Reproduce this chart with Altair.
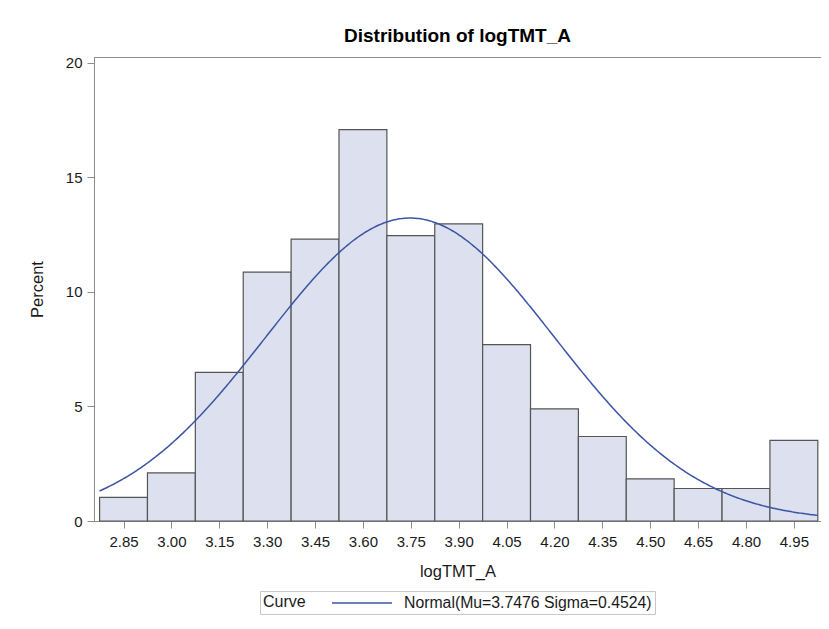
import altair as alt
import pandas as pd

# ---- data ----
BIN_CENTERS = [2.85, 3.00, 3.15, 3.30, 3.45, 3.60, 3.75, 3.90, 4.05, 4.20, 4.35, 4.50, 4.65, 4.80, 4.95]
PERCENTS = [1.03, 2.10, 6.49, 10.87, 12.31, 17.09, 12.46, 12.97, 7.70, 4.90, 3.69, 1.84, 1.42, 1.42, 3.52]
X_TICKS = [2.85, 3.00, 3.15, 3.30, 3.45, 3.60, 3.75, 3.90, 4.05, 4.20, 4.35, 4.50, 4.65, 4.80, 4.95]
Y_TICKS = [0, 5, 10, 15, 20]
BIN_WIDTH = 0.15
MU = 3.7476
SIGMA = 0.4524
CURVE_LABEL = "Normal(Mu=3.7476 Sigma=0.4524)"

FONT = "Liberation Sans"

hist = pd.DataFrame({"center": BIN_CENTERS, "percent": PERCENTS})

x_scale = alt.Scale(domain=[2.7575, 5.035], nice=False, zero=False)
y_scale = alt.Scale(domain=[0, 20.26], nice=False)

bars = alt.Chart(hist).transform_calculate(
    lo=f"datum.center - {BIN_WIDTH / 2}",
    hi=f"datum.center + {BIN_WIDTH / 2}",
).mark_rect(fill="#dde0ee", stroke="#555555", strokeWidth=1.2).encode(
    x=alt.X("lo:Q", scale=x_scale,
            axis=alt.Axis(values=X_TICKS, format=".2f", title="logTMT_A",
                          labelPadding=6, titlePadding=14)),
    x2="hi:Q",
    y=alt.Y("percent:Q", scale=y_scale,
            axis=alt.Axis(values=Y_TICKS, title="Percent", labelPadding=5, titlePadding=20)),
    y2=alt.datum(0),
)

lo_edge = BIN_CENTERS[0] - BIN_WIDTH / 2
hi_edge = BIN_CENTERS[-1] + BIN_WIDTH / 2

curve = alt.Chart(alt.sequence(start=lo_edge, stop=hi_edge + 0.0001, step=0.005, as_="v")).transform_calculate(
    pct=f"100 * {BIN_WIDTH} * densityNormal(datum.v, {MU}, {SIGMA})",
    curve=f"'{CURVE_LABEL}'",
).mark_line(strokeWidth=1.5).encode(
    x=alt.X("v:Q", scale=x_scale),
    y=alt.Y("pct:Q", scale=y_scale),
    color=alt.Color(
        "curve:N",
        scale=alt.Scale(domain=[CURVE_LABEL], range=["#3b55a3"]),
        legend=alt.Legend(
            title="Curve", orient="none", legendX=166, legendY=534,
            direction="horizontal", titleOrient="left", titleBaseline="middle",
            symbolType="M-3.75,0H3.75", symbolSize=256, symbolStrokeWidth=1.5,
            symbolOffset=22, labelOffset=33, labelLimit=400,
            labelFontSize=15.8, titleFontSize=16, titleFontWeight="normal",
            labelColor="#1a1a1a", titleColor="#1a1a1a",
            padding=3, strokeColor="#c8c8c8", fillColor="white",
            titlePadding=25,
        ),
    ),
)

chart = alt.layer(bars, curve).properties(
    width=727,
    height=464,
    autosize=alt.AutoSizeParams(type="none"),
    padding={"left": 86, "top": 49, "right": 0, "bottom": 96},
    title=alt.Title("Distribution of logTMT_A", fontSize=19, fontWeight="bold",
                    offset=10, anchor="middle", color="black", font=FONT),
).configure(
    font=FONT,
    background="white",
).configure_view(
    stroke="#8c8c8c", strokeWidth=1,
).configure_axis(
    grid=False,
    domainColor="#8c8c8c",
    tickColor="#8c8c8c",
    tickSize=7,
    labelFontSize=15,
    titleFontSize=16.5,
    titleFontWeight="normal",
    labelColor="#1a1a1a",
    titleColor="#1a1a1a",
    labelFont=FONT,
    titleFont=FONT,
)

chart.save("out.html", embed_options={"renderer": "svg", "actions": False})
